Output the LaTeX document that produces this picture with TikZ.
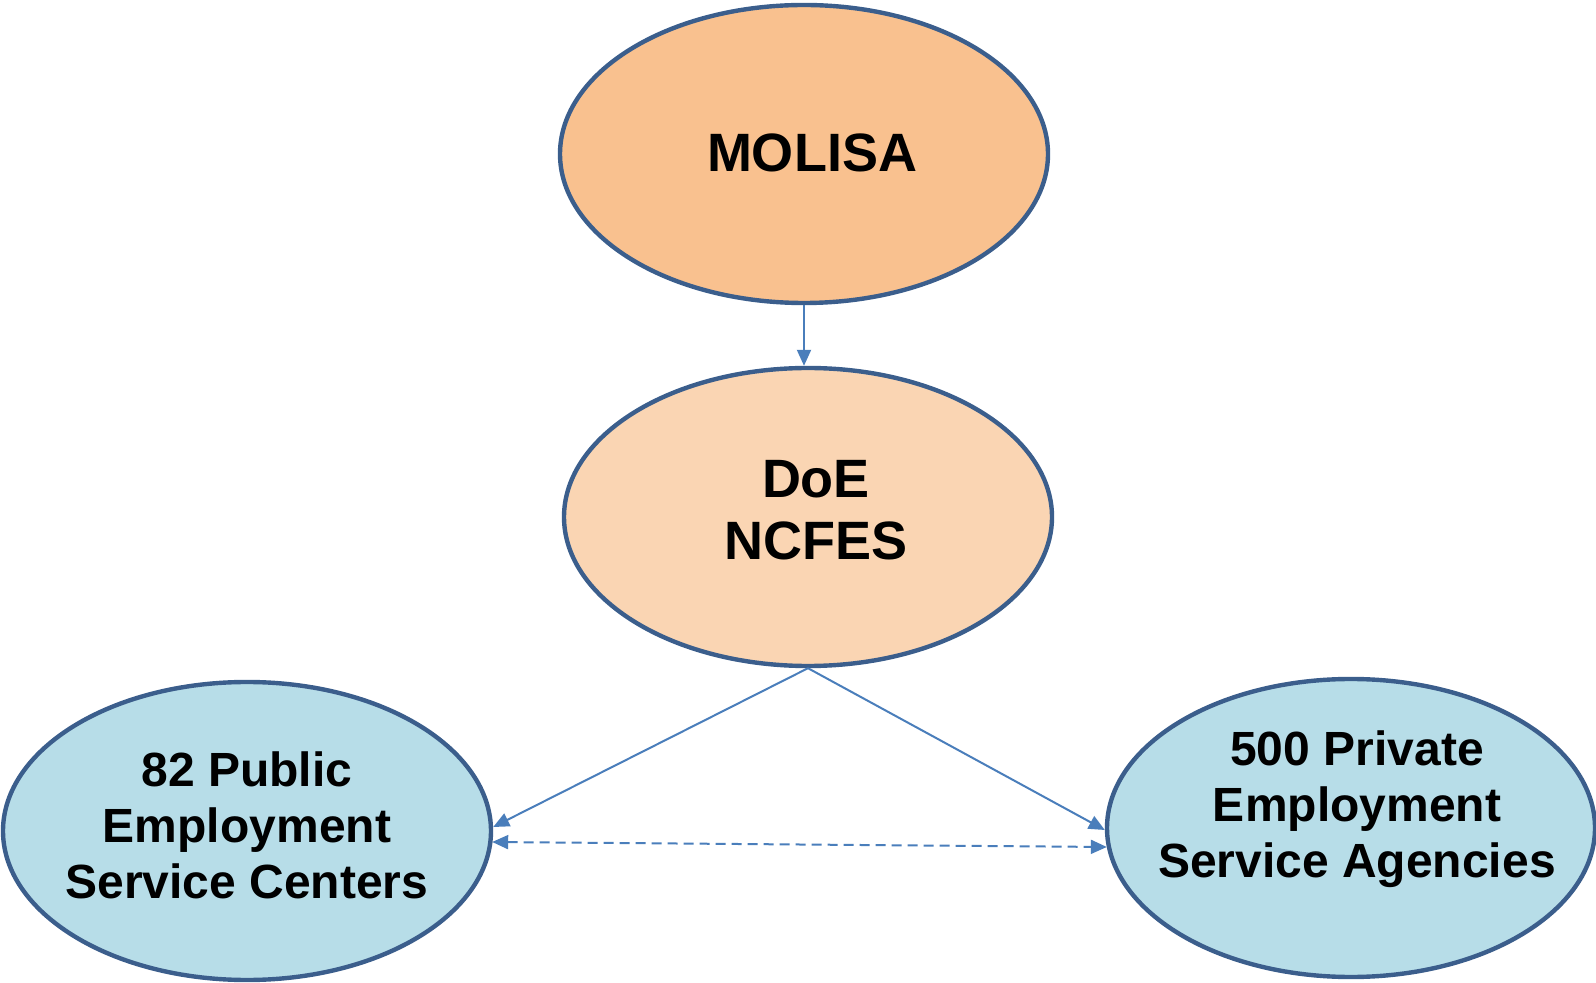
\documentclass[tikz,border=0pt]{standalone}
\usepackage{fontspec}
\setmainfont{Liberation Sans}
\usepackage{tikz}
\usetikzlibrary{arrows.meta, shapes.geometric, calc}

\definecolor{topfill}{HTML}{F9C18F}
\definecolor{midfill}{HTML}{FAD5B3}
\definecolor{lowfill}{HTML}{B7DDE8}
\definecolor{rimblue}{HTML}{3B5E8C}
\definecolor{linkblue}{HTML}{4A7EBB}

\begin{document}
\begin{tikzpicture}[x=0.5pt, y=-0.5pt,
    oval/.style={ellipse, draw=rimblue, line width=2.2pt, minimum width=488*0.5pt, minimum height=298*0.5pt, inner sep=0pt},
    bigtext/.style={align=center, font=\fontsize{27}{31}\selectfont\bfseries},
    smalltext/.style={align=center, font=\fontsize{24}{28}\selectfont\bfseries},
    link/.style={draw=linkblue, line width=1pt, -{Triangle[length=8pt,width=7pt]}}]
        \useasboundingbox (0,0) rectangle (1596,983);

        % the four ovals
        \node[oval, fill=topfill] (molisa) at (804,154) {};
        \node[oval, fill=midfill] (doe) at (808,517) {};
        \node[oval, fill=lowfill] (pub) at (247,831) {};
        \node[oval, fill=lowfill] (priv) at (1351,828) {};

        % their texts
        \node[bigtext] (molisatext) at ($(molisa)+(8,-1)$) {MOLISA};
        \node[bigtext] (doetext) at ($(doe)+(8,-7)$) {DoE\\NCFES};
        \node[smalltext] (pubtext) at ($(pub)+(0,-6)$) {82 Public\\Employment\\Service Centers};
        \node[smalltext] (privtext) at ($(priv)+(6,-19)$) {500 Private\\Employment\\Service Agencies};

        % ends of the links on the lower ovals
        \coordinate (pubin) at ($(pub.east)+(0,-4)$);
        \coordinate (pubdash) at ($(pub.east)+(-1,11)$);
        \coordinate (privin) at ($(priv.west)+(0,2)$);
        \coordinate (privdash) at ($(priv.west)+(2,19)$);

        \draw[link] (molisa.south) -- (molisa.south |- doe.north);
        \draw[link] (doe.south) -- (pubin);
        \draw[link] (doe.south) -- (privin);
        \draw[link, dash pattern=on 5pt off 3pt, {Triangle[length=8pt,width=7pt]}-{Triangle[length=8pt,width=7pt]}] (pubdash) -- (privdash);
    \end{tikzpicture}
\end{document}
